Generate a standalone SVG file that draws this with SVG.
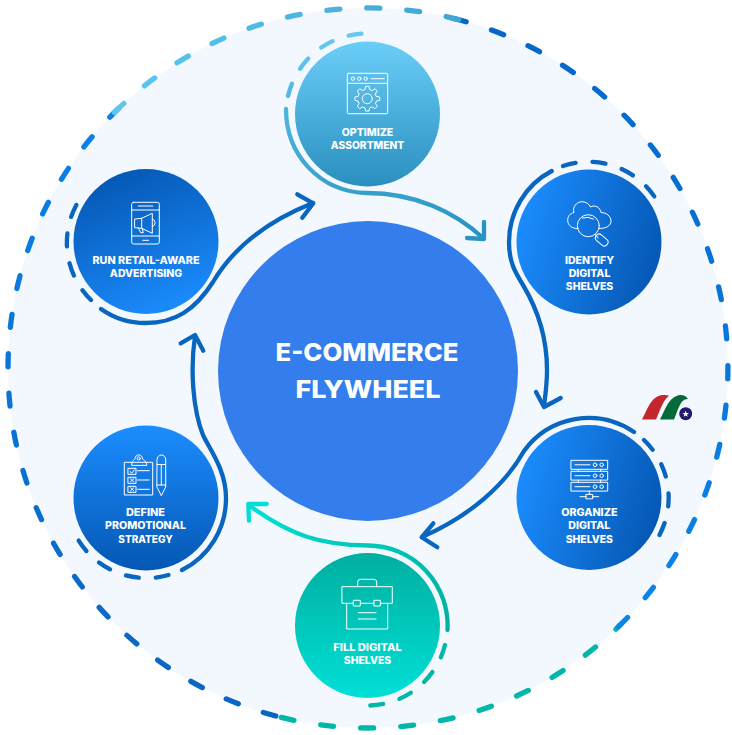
<svg xmlns="http://www.w3.org/2000/svg" width="732" height="735" viewBox="0 0 732 735">
<style>
text{font-family:Inter,"Liberation Sans",Arial,sans-serif;fill:#fff;text-anchor:middle}
.lbl{font-size:10px;font-weight:800}
.title{font-size:24px;font-weight:800}
.ring{fill:none;stroke-width:5.3;stroke-linecap:round}
.con{fill:none;stroke-width:4.3;stroke-linecap:round;stroke-linejoin:round}
.dash{stroke-dasharray:13 17}
.blue{stroke:#0865c0}
.ic{fill:none;stroke:#fff;stroke-width:1;stroke-linejoin:round;stroke-linecap:round}
</style>
<defs>
<linearGradient id="gTop" x1="0" y1="0" x2="0" y2="1"><stop offset="0" stop-color="#6bcef8"/><stop offset="1" stop-color="#2a8fbf"/></linearGradient>
<linearGradient id="gH" x1="0" y1="0.35" x2="1" y2="0.65"><stop offset="0" stop-color="#1b8dff"/><stop offset="1" stop-color="#0557b3"/></linearGradient>
<linearGradient id="gTeal" x1="0" y1="0" x2="0" y2="1"><stop offset="0" stop-color="#00afa0"/><stop offset="1" stop-color="#00e0d6"/></linearGradient>
<linearGradient id="gDown" x1="0" y1="0" x2="0" y2="1"><stop offset="0" stop-color="#1b8dff"/><stop offset="1" stop-color="#0557b3"/></linearGradient>
<linearGradient id="gUp" x1="0.3" y1="0" x2="0.7" y2="1"><stop offset="0" stop-color="#0557b3"/><stop offset="1" stop-color="#1b8dff"/></linearGradient>
<linearGradient id="rLight" gradientUnits="userSpaceOnUse" x1="118" y1="0" x2="460" y2="0"><stop offset="0" stop-color="#5cc7f1"/><stop offset="1" stop-color="#3ea6d4"/></linearGradient>
<linearGradient id="rLeft" gradientUnits="userSpaceOnUse" x1="0" y1="110" x2="0" y2="720"><stop offset="0" stop-color="#0a82ea"/><stop offset="1" stop-color="#0a64c2"/></linearGradient>
<linearGradient id="rRight" gradientUnits="userSpaceOnUse" x1="0" y1="630" x2="0" y2="20"><stop offset="0" stop-color="#0a85ec"/><stop offset="1" stop-color="#0666c8"/></linearGradient>
<linearGradient id="cOpt" gradientUnits="userSpaceOnUse" x1="0" y1="32" x2="0" y2="240"><stop offset="0" stop-color="#66c9f3"/><stop offset="1" stop-color="#2893c0"/></linearGradient>
<linearGradient id="cFill" gradientUnits="userSpaceOnUse" x1="448" y1="640" x2="250" y2="505"><stop offset="0" stop-color="#00b0a0"/><stop offset="1" stop-color="#00e0d6"/></linearGradient>
</defs>

<circle id="backdrop" cx="368" cy="368" r="360" fill="#f3f8fe"/>

<g id="outer-ring">
<path class="ring" stroke="#00b7a8" stroke-dasharray="13 27.1" d="M281.3,717.4 A360,360 0 0 0 620.8,624.4"/>
<path class="ring" stroke="url(#rLeft)" stroke-dasharray="13 26.45" d="M119,108 A360,360 0 0 0 279,716.8"/>
<path class="ring" stroke="url(#rRight)" stroke-dasharray="13 26.7" d="M618.4,626.7 A360,360 0 0 0 452,18.1"/>
<path class="ring" stroke="url(#rLight)" stroke-dasharray="13 27" d="M458.8,19.6 A360,360 0 0 0 111.2,115.7"/>
</g>

<g id="connectors">
<path class="con dash" stroke="url(#cOpt)" d="M288,96 A81,81 0 0 1 367,33.5"/>
<path class="con" stroke="url(#cOpt)" d="M286,109 C286,155 320,192 367,193 C415,193 455,212 483,238"/>
<polyline class="con" stroke="#2795c3" points="484,222 484,239 467,238"/>

<path class="con dash blue" d="M563,166 A80,80 0 0 1 656,199"/>
<path class="con blue" d="M551.7,171 A80,80 0 0 0 509,242 C509,262 515,272 523,285 C538,310 547,340 547,370 C547,385 545,398 544,406"/>
<polyline class="con blue" points="536,392 544,407 560.7,398"/>

<path class="con dash blue" d="M644,440 A80,80 0 0 1 657.5,538.5"/>
<path class="con blue" d="M634,432 A80,80 0 0 0 524,451 C505,485 470,516 422,537"/>
<polyline class="con blue" points="433.3,523.3 421.7,537.3 437.3,547.3"/>

<path class="con dash" stroke="#00b7a8" d="M445,645 A80,80 0 0 1 370,705.5"/>
<path class="con" stroke="url(#cFill)" d="M447.5,630 A80,80 0 0 0 368,545.5 C320,545 290,535 250,506"/>
<polyline class="con" stroke="#00dfd5" points="266.7,504 248.3,504 249,520.7"/>

<path class="con dash blue" d="M168.5,575 A80,80 0 0 1 76,536"/>
<path class="con blue" d="M182,570 A80,80 0 0 0 226,498 C226,470 210,450 203,435 C193,410 190,370 195,336"/>
<polyline class="con blue" points="180.7,343.3 195,335 203.3,350.7"/>

<path class="con dash blue" d="M91,300 A80,80 0 0 1 78,202"/>
<path class="con blue" d="M101,309 C115,319 130,323 146,323 C175,323 195,310 213,282 C235,245 270,220 313,203"/>
<polyline class="con blue" points="297.3,194.3 313.3,203.3 302.3,217.7"/>
</g>

<g id="node-center">
<circle cx="368" cy="371" r="150" fill="#337dec"/>
<text class="title" x="367" y="361" textLength="183" lengthAdjust="spacingAndGlyphs">E-COMMERCE</text>
<text class="title" x="368" y="397.5" textLength="145" lengthAdjust="spacingAndGlyphs">FLYWHEEL</text>
</g>

<g id="node-optimize">
<circle cx="367.5" cy="114" r="72.5" fill="url(#gTop)"/>
<g class="ic">
<rect x="347.3" y="73.3" width="40.4" height="40.4" rx="1"/>
<path d="M347.3,83.3 H387.7 M371,78.7 H384.3"/>
<circle cx="353" cy="78.7" r="1.7"/><circle cx="359.3" cy="78.7" r="1.7"/><circle cx="365.7" cy="78.7" r="1.7"/>
<g transform="translate(367.3,98.7)">
<circle r="5"/>
<path d="M9.2,-2.3 L12.4,-1.7 12.4,1.7 9.2,2.3 8.13,4.88 9.97,7.56 7.56,9.97 4.88,8.13 2.3,9.2 1.7,12.4 -1.7,12.4 -2.3,9.2 -4.88,8.13 -7.56,9.97 -9.97,7.56 -8.13,4.88 -9.2,2.3 -12.4,1.7 -12.4,-1.7 -9.2,-2.3 -8.13,-4.88 -9.97,-7.56 -7.56,-9.97 -4.88,-8.13 -2.3,-9.2 -1.7,-12.4 1.7,-12.4 2.3,-9.2 4.88,-8.13 7.56,-9.97 9.97,-7.56 8.13,-4.88 Z"/>
</g>
</g>
<text class="lbl" x="367.5" y="135.5" textLength="51.6" lengthAdjust="spacingAndGlyphs">OPTIMIZE</text>
<text class="lbl" x="367.5" y="148.8" textLength="73.3" lengthAdjust="spacingAndGlyphs">ASSORTMENT</text>
</g>

<g id="node-identify">
<circle cx="589" cy="242" r="72.5" fill="url(#gH)"/>
<g class="ic">
<path d="M578,228.5 C572,229 567.7,225 567.7,220.5 C567.7,216 570,213.5 574,212.5 C572,207 577,201.7 582,201.7 C586,201.7 589,204 590.5,207 C595,204.5 600,207 601,212.5 C606,212.5 611,216 611,221 C611,225.5 607,228.5 599,228.5"/>
<circle cx="588.3" cy="225.7" r="11"/>
<path d="M582.5,218 Q588,216 593.5,219 M595.5,234.5 L598,238"/>
<rect x="-7" y="-3.7" width="14" height="7.4" rx="3.5" transform="translate(601.7,240) rotate(40)"/>
</g>
<text class="lbl" x="589.5" y="263.5" textLength="49" lengthAdjust="spacingAndGlyphs">IDENTIFY</text>
<text class="lbl" x="589.5" y="276.8" textLength="41.7" lengthAdjust="spacingAndGlyphs">DIGITAL</text>
<text class="lbl" x="589.5" y="290.1" textLength="47.3" lengthAdjust="spacingAndGlyphs">SHELVES</text>
</g>

<g id="node-organize">
<circle cx="589" cy="497.5" r="72.5" fill="url(#gH)"/>
<g class="ic">
<rect x="571.3" y="460.3" width="36.4" height="9"/><rect x="571.3" y="471.3" width="36.4" height="8.8"/><rect x="571.3" y="482.3" width="36.4" height="8.8"/>
<path d="M575,464.8 H590 M575,475.7 H590 M575,486.7 H590 M578.3,469.3 V471.3 M600.7,469.3 V471.3 M578.3,480 V482.3 M600.7,480 V482.3 M589.3,491 V494.4 M580,496.7 H586.3 M592.7,496.7 H598.7"/>
<circle cx="595" cy="464.8" r="1.8"/><circle cx="601.7" cy="464.8" r="1.8"/>
<circle cx="595" cy="475.7" r="1.8"/><circle cx="601.7" cy="475.7" r="1.8"/>
<circle cx="595" cy="486.7" r="1.8"/><circle cx="601.7" cy="486.7" r="1.8"/>
<rect x="586.3" y="494.4" width="6.4" height="4.4"/>
</g>
<text class="lbl" x="589.3" y="516" textLength="56.3" lengthAdjust="spacingAndGlyphs">ORGANIZE</text>
<text class="lbl" x="589.3" y="529.3" textLength="42" lengthAdjust="spacingAndGlyphs">DIGITAL</text>
<text class="lbl" x="589.3" y="542.7" textLength="47.3" lengthAdjust="spacingAndGlyphs">SHELVES</text>
</g>

<g id="node-fill">
<circle cx="367.5" cy="625.5" r="72.5" fill="url(#gTeal)"/>
<g class="ic">
<path d="M357.7,586.7 V582 Q357.7,579.3 360.5,579.3 H374 Q376.7,579.3 376.7,582 V586.7"/>
<rect x="342.3" y="586.7" width="50" height="16.6"/>
<path d="M346.7,603.3 V629 H387.7 V603.3 M358.3,612.7 H376 M358.3,619 H376"/>
<rect x="353.7" y="600.3" width="6.6" height="5.7" fill="#00bfb0"/>
<rect x="374.3" y="600.3" width="6" height="5.7" fill="#00bfb0"/>
</g>
<text class="lbl" x="367.5" y="651" textLength="68.3" lengthAdjust="spacingAndGlyphs">FILL DIGITAL</text>
<text class="lbl" x="367.5" y="664.3" textLength="47.3" lengthAdjust="spacingAndGlyphs">SHELVES</text>
</g>

<g id="node-define">
<circle cx="146" cy="498" r="72.5" fill="url(#gDown)"/>
<g class="ic">
<rect x="124.7" y="462.3" width="28" height="32.7"/>
<path d="M131.7,465 C131.7,461 134,460 135,459 C135,453.5 142.5,453.5 142.5,459 C143.5,460 146.7,461 146.7,465 Z"/>
<circle cx="138.7" cy="458.5" r="1.6"/>
<rect x="128.3" y="468.3" width="7.7" height="6"/><rect x="128.3" y="477.3" width="7.7" height="6"/><rect x="128.3" y="486.3" width="7.7" height="6"/>
<path d="M137.7,470.7 H149.3 M137.7,480 H149.3 M137.7,489.3 H149.3 M130,471.5 L131.8,473 L134.5,469.8 M130.5,478.8 L133.8,481.8 M133.8,478.8 L130.5,481.8 M130.5,487.8 L133.8,490.8 M133.8,487.8 L130.5,490.8"/>
<path d="M157,459.5 A4.35,4.5 0 0 1 165.7,459.5 V487 L161.3,495.7 L157,487 Z M157,464.5 H165.7 M161.3,464.5 V485 M157,485 H165.7"/>
</g>
<text class="lbl" x="145.5" y="516" textLength="39" lengthAdjust="spacingAndGlyphs">DEFINE</text>
<text class="lbl" x="145.5" y="529.3" textLength="81" lengthAdjust="spacingAndGlyphs">PROMOTIONAL</text>
<text class="lbl" x="145.5" y="542.7" textLength="54.3" lengthAdjust="spacingAndGlyphs">STRATEGY</text>
</g>

<g id="node-advertising">
<circle cx="146" cy="241.5" r="72.5" fill="url(#gUp)"/>
<g class="ic">
<rect x="131.7" y="202.3" width="27.6" height="41.7" rx="2"/>
<path d="M131.7,210 H159.3 M131.7,236 H159.3 M138.3,206 H152.7 M142.7,240.3 H148.7"/>
<path d="M135,219 L141.7,218.3 L152.3,213.3 V233.3 L141.7,228.3 L135,227.7 Z M141.7,218.3 V228.3 M138.3,227.8 L140.7,232.7 H143.3 L142.3,228.5 M152.5,219 A4,4 0 0 1 152.5,226.5"/>
</g>
<text class="lbl" x="146" y="263.5" textLength="107" lengthAdjust="spacingAndGlyphs">RUN RETAIL-AWARE</text>
<text class="lbl" x="146" y="276.8" textLength="72.3" lengthAdjust="spacingAndGlyphs">ADVERTISING</text>
</g>

<g id="logo">
<path fill="#c4262e" d="M642,419.5 C647,411 650,397 662,395 C665,394.8 667,395 669,395.8 C663,400 660,411 656,419.5 Z"/>
<path fill="#046a38" d="M660,419.5 C665,411 668,397 680,395 C684,394.8 686,396 688,399 C680,398.5 678,411 674,419.5 Z"/>
<circle cx="685.7" cy="413.7" r="6.5" fill="#1f1a6e"/>
<polygon fill="#fff" points="685.7,410.5 686.5,412.9 689,412.9 687,414.4 687.7,416.8 685.7,415.4 683.7,416.8 684.4,414.4 682.4,412.9 684.9,412.9"/>
</g>
</svg>
